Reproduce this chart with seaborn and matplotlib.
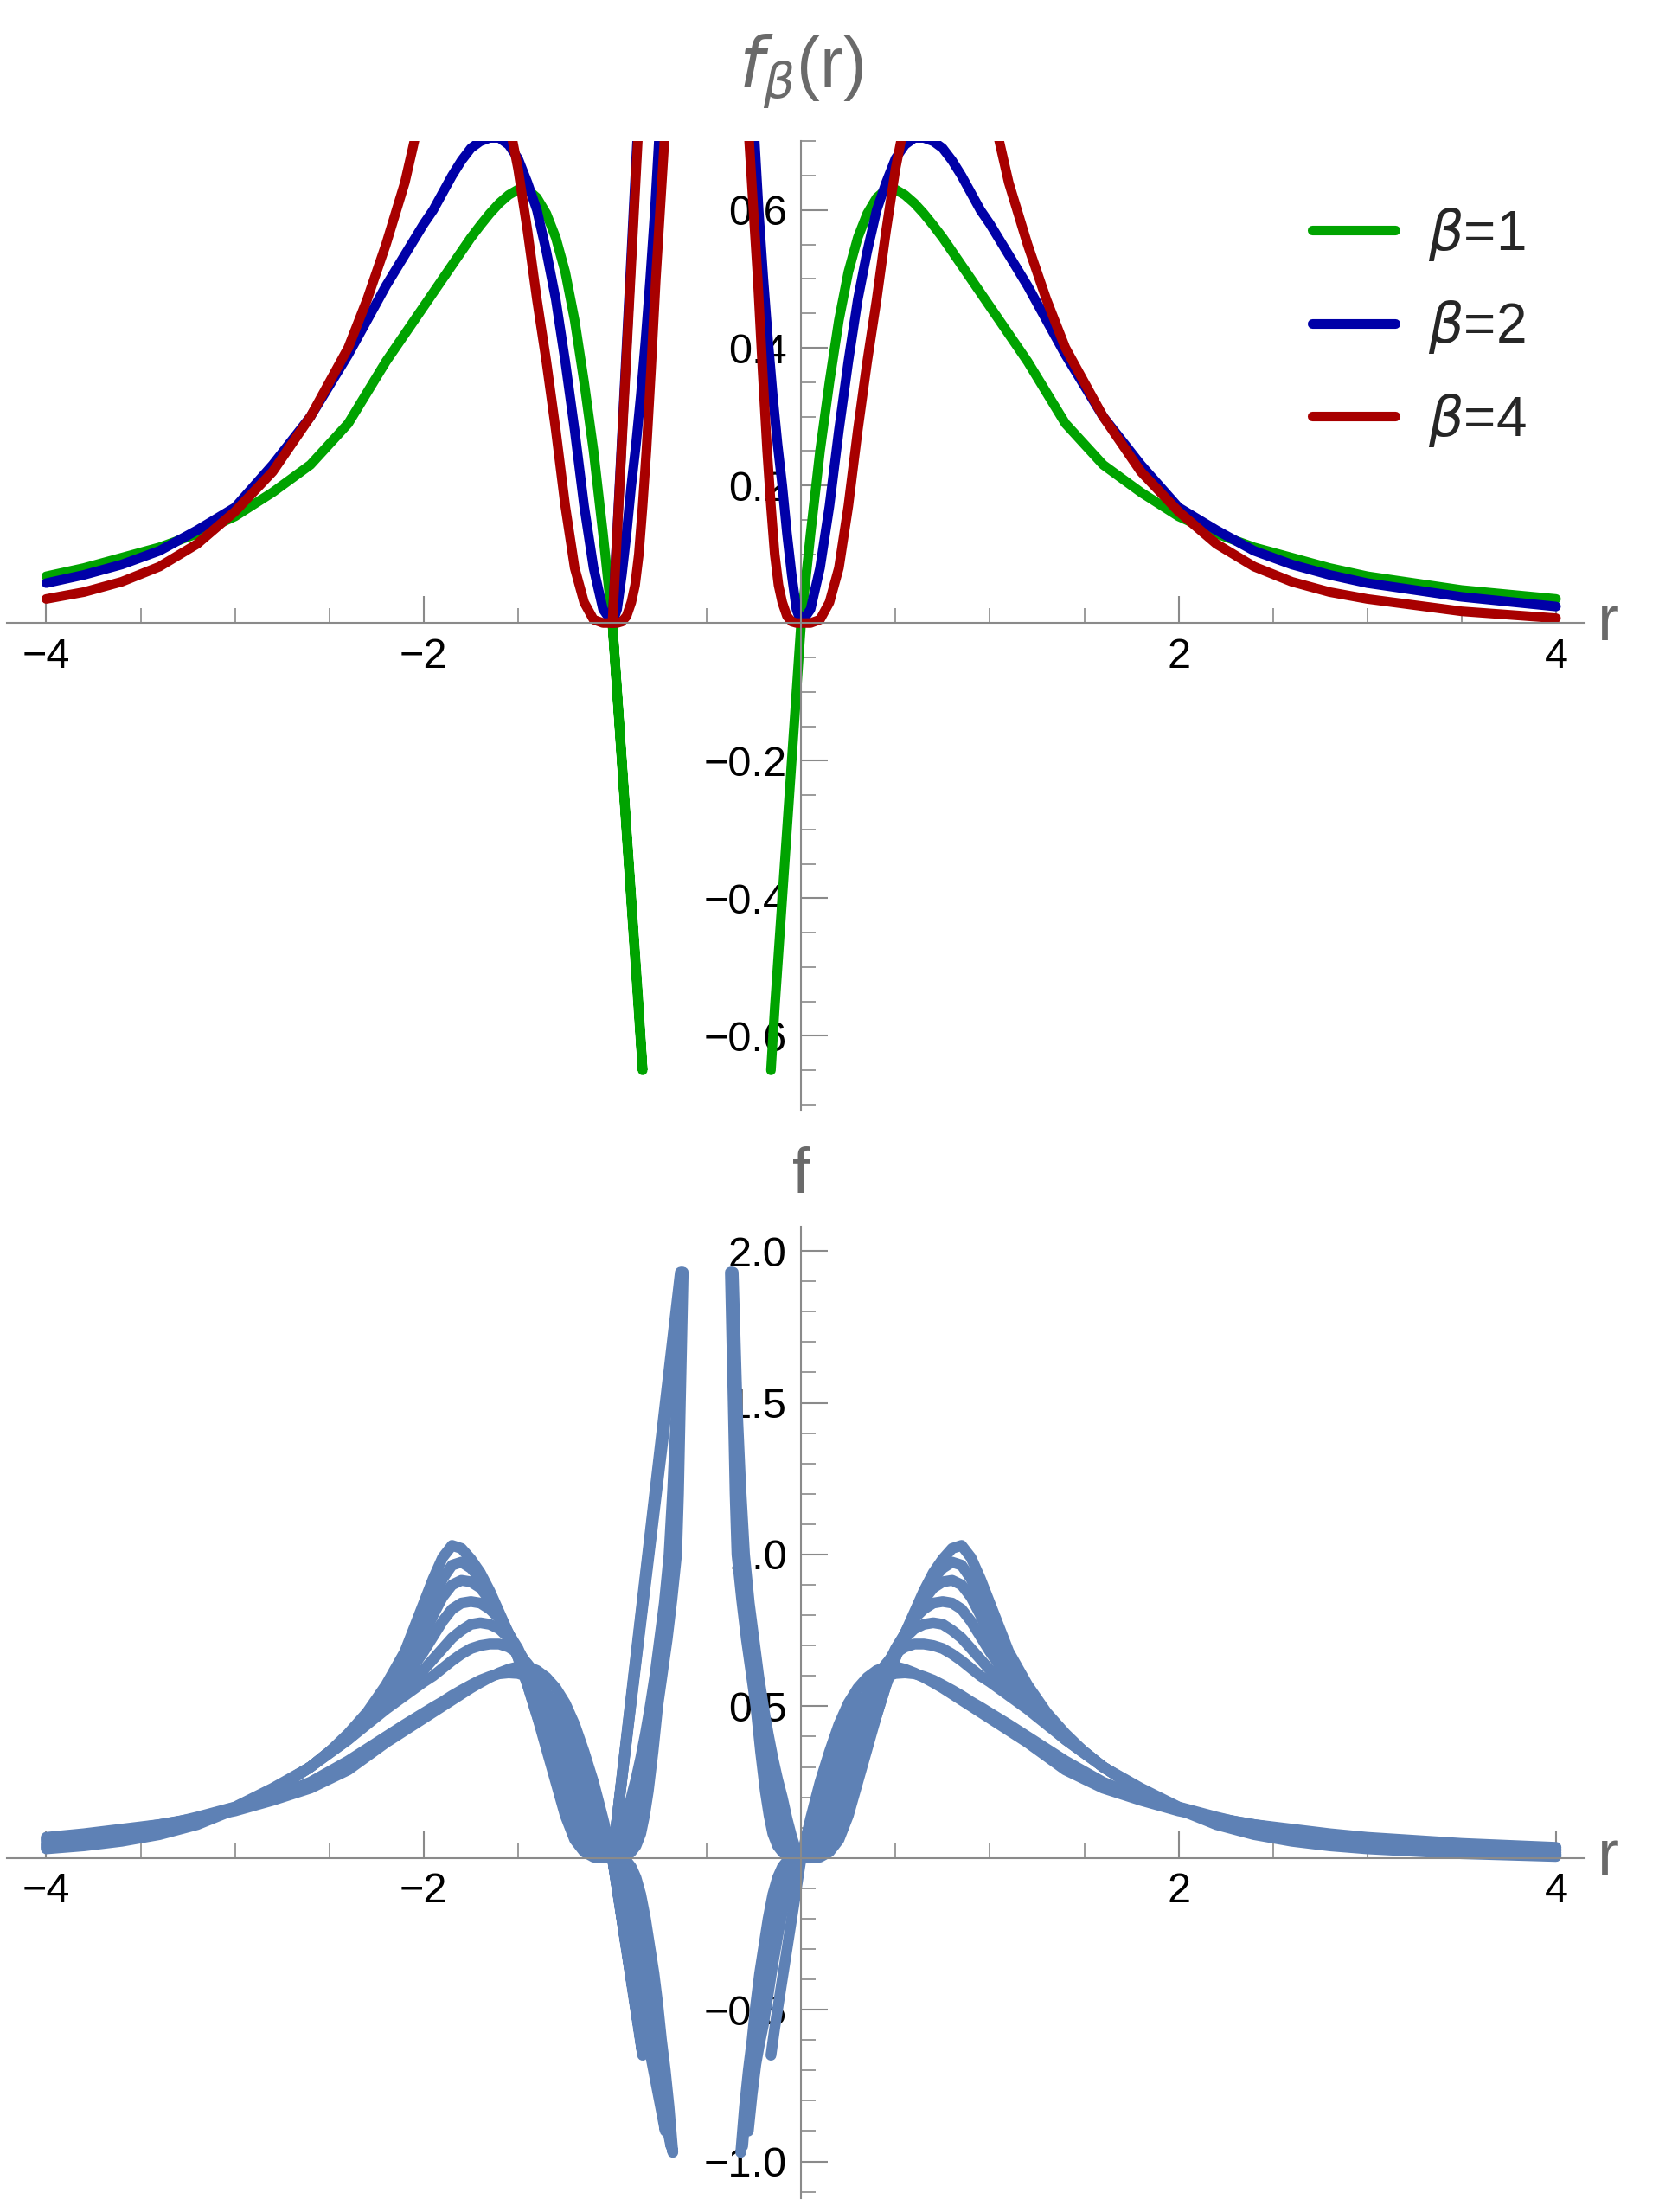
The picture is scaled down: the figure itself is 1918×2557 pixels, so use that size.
import numpy as np
import pandas as pd
import matplotlib
matplotlib.use("Agg")
import matplotlib.pyplot as plt
import seaborn as sns

sns.set_theme(style="white")
plt.rcParams['font.family'] = ['Liberation Sans', 'DejaVu Sans']

# outer grid r >= 0 (mirrored to r' = -1 - r for the left side)
R = [0, .05, .1, .15, .2, .25, .3, .35, .4, .45, .5, .55, .6, .65, .7, .75, .8, .85, .9, .95, 1.0,
     1.1, 1.2, 1.3, 1.4, 1.5, 1.6, 1.8, 2.0, 2.2, 2.4, 2.6, 2.8, 3.0, 3.5, 4.0]
outer = {
    1.0: [0, .13, .25, .35, .44, .51, .56, .595, .618, .63, .63, .622, .61, .595, .578, .56, .54, .52, .50, .48, .46,
          .42, .38, .335, .29, .26, .23, .19, .155, .13, .11, .095, .08, .068, .048, .035],
    1.5: [0, .05, .14, .25, .35, .43, .50, .545, .578, .598, .608, .61, .607, .598, .586, .57, .553, .535, .515, .497, .478,
          .44, .40, .36, .32, .285, .25, .20, .16, .132, .11, .09, .075, .062, .042, .03],
    2.0: [0, .02, .08, .17, .28, .38, .47, .54, .60, .64, .675, .695, .705, .705, .70, .69, .672, .65, .625, .60, .58,
          .535, .49, .44, .39, .345, .30, .23, .168, .135, .105, .085, .07, .058, .038, .024],
    2.5: [0, .008, .04, .11, .20, .30, .40, .49, .57, .635, .685, .725, .755, .77, .775, .77, .75, .725, .69, .655, .62,
          .56, .50, .445, .39, .345, .30, .225, .167, .13, .10, .078, .062, .05, .03, .018],
    3.0: [0, .003, .02, .07, .14, .24, .35, .45, .54, .62, .69, .74, .79, .82, .84, .845, .84, .82, .78, .73, .68,
          .59, .52, .455, .40, .35, .30, .225, .165, .125, .095, .072, .057, .045, .025, .013],
    3.5: [0, .001, .01, .045, .11, .20, .31, .42, .52, .60, .68, .74, .80, .85, .89, .91, .915, .90, .86, .80, .73,
          .62, .54, .465, .40, .35, .30, .22, .163, .12, .088, .066, .051, .04, .021, .01],
    4.0: [0, 0, .005, .03, .08, .17, .28, .38, .47, .57, .66, .73, .80, .86, .92, .955, .975, .965, .92, .85, .76,
          .64, .55, .47, .40, .35, .30, .22, .162, .115, .082, .06, .045, .035, .017, .007],
    4.5: [0, 0, .003, .02, .06, .14, .25, .36, .47, .57, .66, .74, .81, .88, .94, .985, 1.02, 1.03, .99, .92, .84,
          .68, .57, .48, .41, .35, .30, .22, .16, .11, .077, .055, .04, .03, .014, .005],
}
# inner segments (-0.5 < r <= 0)
inner_r = {
    1.0: [-0.16, -0.14, -0.12, -0.1, -0.08, -0.06, -0.04, -0.02, 0],
    1.5: [-0.28, -0.26, -0.24, -0.22, -0.2, -0.175, -0.15, -0.125, -0.1, -0.075, -0.05, -0.025, 0],
    2.0: [-0.36, -0.34, -0.32, -0.3, -0.275, -0.25, -0.225, -0.2, -0.175, -0.15, -0.125, -0.1, -0.075, -0.05, -0.025, 0],
    2.5: [-0.31, -0.29, -0.27, -0.25, -0.225, -0.2, -0.175, -0.15, -0.125, -0.1, -0.075, -0.05, -0.025, 0],
    3.0: [-0.365, -0.35, -0.335, -0.32, -0.295, -0.27, -0.24, -0.21, -0.185, -0.16, -0.14, -0.12, -0.1, -0.08, -0.06, -0.04, -0.02, 0],
    3.5: [-0.32, -0.3, -0.28, -0.26, -0.24, -0.22, -0.2, -0.175, -0.15, -0.125, -0.1, -0.075, -0.05, -0.025, 0],
    4.0: [-0.37, -0.355, -0.34, -0.33, -0.305, -0.28, -0.255, -0.23, -0.205, -0.18, -0.16, -0.14, -0.12, -0.1, -0.075, -0.05, -0.025, 0],
    4.5: [-0.375, -0.36, -0.35, -0.34, -0.315, -0.29, -0.265, -0.24, -0.215, -0.19, -0.17, -0.15, -0.125, -0.1, -0.075, -0.05, -0.025, 0],
}
inner_f = {
    1.0: [-0.65, -0.56, -0.48, -0.40, -0.32, -0.24, -0.16, -0.08, 0],
    1.5: [-0.9, -0.78, -0.68, -0.61, -0.55, -0.45, -0.35, -0.26, -0.18, -0.11, -0.05, -0.015, 0],
    2.0: [1.93, 1.5, 1.22, 1.0, 0.84, 0.72, 0.6, 0.5, 0.41, 0.33, 0.26, 0.2, 0.13, 0.07, 0.02, 0],
    2.5: [-0.95, -0.8, -0.69, -0.6, -0.48, -0.38, -0.29, -0.2, -0.13, -0.07, -0.03, -0.01, -0.001, 0],
    3.0: [1.93, 1.5, 1.2, 1.0, 0.84, 0.72, 0.6, 0.5, 0.39, 0.28, 0.2, 0.13, 0.08, 0.04, 0.017, 0.005, 0.0006, 0],
    3.5: [-0.97, -0.82, -0.7, -0.6, -0.48, -0.38, -0.3, -0.2, -0.12, -0.065, -0.03, -0.01, -0.002, 0, 0],
    4.0: [1.93, 1.5, 1.2, 1.0, 0.85, 0.72, 0.61, 0.5, 0.37, 0.25, 0.17, 0.1, 0.055, 0.03, 0.01, 0.002, 0, 0],
    4.5: [1.93, 1.5, 1.2, 1.0, 0.85, 0.72, 0.61, 0.5, 0.35, 0.22, 0.14, 0.08, 0.04, 0.02, 0.006, 0.001, 0, 0],
}
top_betas = [1.0, 2.0, 4.0]
top_labels = [r"$\beta$=1", r"$\beta$=2", r"$\beta$=4"]
top_colors = ["#00a300", "#0000a8", "#a80000"]

def build(beta):
    rows = []
    Ro = np.array(R); Fo = np.array(outer[beta])
    Ri = np.array(inner_r[beta]); Fi = np.array(inner_f[beta])
    m = Ro <= 3.0
    lr = np.concatenate([(-1 - Ro[m])[::-1], -1 - Ri])
    lf = np.concatenate([Fo[m][::-1], Fi])
    rows += [(a, b, beta, 0) for a, b in zip(lr, lf)]
    rr = np.concatenate([Ri, Ro[1:]])
    rf = np.concatenate([Fi, Fo[1:]])
    rows += [(a, b, beta, 1) for a, b in zip(rr, rf)]
    return pd.DataFrame(rows, columns=["r", "f", "beta", "seg"])

df_all = pd.concat([build(b) for b in outer], ignore_index=True)

W, H = 1918, 2557
fig = plt.figure(figsize=(W/100, H/100), dpi=100)
ax1 = fig.add_axes([0.004, 0.4984, 0.951, 0.4377])
ax2 = fig.add_axes([0.004, 0.0064, 0.951, 0.439])

def style(ax, ylim, yticks, yminor):
    ax.set_xlim(-4.21, 4.15)
    ax.set_ylim(*ylim)
    for s in ["top", "right"]:
        ax.spines[s].set_visible(False)
    ax.spines["left"].set_position(("data", 0))
    ax.spines["bottom"].set_position(("data", 0))
    for s in ["left", "bottom"]:
        ax.spines[s].set_color("#8a8a8a"); ax.spines[s].set_linewidth(1.5)
    ax.set_xticks([-4, -2, 2, 4])
    ax.set_xticklabels(["−4", "−2", "2", "4"])
    ax.set_xticks([v for v in np.arange(-4, 4.01, 0.5) if v % 2 != 0], minor=True)
    ax.set_yticks(yticks)
    ax.set_yticklabels([f"{v:.1f}".replace("-", "−") for v in yticks])
    ax.set_yticks(yminor, minor=True)
    ax.tick_params(which="both", direction="in", bottom=True, left=True, color="#8a8a8a",
                   labelsize=35, labelcolor="black")
    ax.tick_params(which="major", length=22, width=1.5, pad=12)
    ax.tick_params(which="minor", length=12, width=1.2)
    ax.set_xlabel(""); ax.set_ylabel("")
    ax.grid(False)

# top
df_top = df_all[df_all.beta.isin(top_betas)].copy()
df_top["label"] = df_top.beta.map(dict(zip(top_betas, top_labels)))
sns.lineplot(data=df_top, x="r", y="f", hue="label", hue_order=top_labels, palette=top_colors,
             units="seg", estimator=None, sort=False, lw=8, ax=ax1)
style(ax1, (-0.707, 0.697), [-0.6, -0.4, -0.2, 0.2, 0.4, 0.6],
      [v for v in np.round(np.arange(-0.7, 0.71, 0.05), 2) if abs(v*5 - round(v*5)) > 1e-6])
leg = ax1.legend(loc="upper right", bbox_to_anchor=(0.995, 0.985), frameon=False, fontsize=46,
                 handlelength=1.5, labelspacing=0.65, handletextpad=0.6)
for l in leg.get_lines():
    l.set_linewidth(8)
ax1.text(0, 0.745, r"$f_\beta$(r)", ha="center", va="bottom", fontsize=58, color="#6a6a6a", clip_on=False)
ax1.text(4.22, 0.0, "r", ha="left", va="center", fontsize=54, color="#6a6a6a", clip_on=False)

# bottom
sns.lineplot(data=df_all, x="r", y="f", hue="beta", palette=["#5e81b5"] * len(outer),
             units="seg", estimator=None, sort=False, lw=9, ax=ax2, legend=False)
style(ax2, (-1.12, 2.08), [-1.0, -0.5, 0.5, 1.0, 1.5, 2.0],
      [v for v in np.round(np.arange(-1.1, 2.09, 0.1), 2) if abs(v*2 - round(v*2)) > 1e-6])
ax2.text(0, 2.15, "f", ha="center", va="bottom", fontsize=54, color="#6a6a6a", clip_on=False)
ax2.text(4.22, 0.0, "r", ha="left", va="center", fontsize=54, color="#6a6a6a", clip_on=False)

fig.savefig("out.png", dpi=100)
